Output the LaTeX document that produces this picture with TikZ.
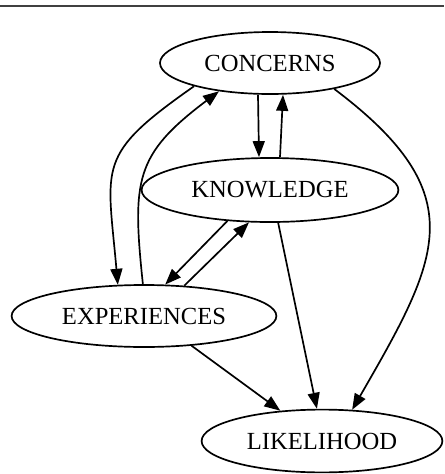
\documentclass[tikz,border=0pt]{standalone}
\usepackage{fontspec}
\setmainfont{Liberation Serif}
\usetikzlibrary{arrows.meta}
\usetikzlibrary{shapes.geometric}

\begin{document}
\begin{tikzpicture}[line width=1.2pt,
  >={Triangle[length=0.4cm,width=0.3cm]},
  factor/.style={ellipse,draw,inner sep=0pt,font=\fontsize{17.5}{20}\selectfont}]

\useasboundingbox (0,0) rectangle (11.1,-11.85);
% \draw[help lines] (0,0) grid (11,-12);

\draw[black!75] (0,-0.15) -- (11.1,-0.15);

\node[factor,minimum width=5.5cm,minimum height=1.55cm] (concerns) at (6.75,-1.575) {CONCERNS};
\node[factor,minimum width=6.42cm,minimum height=1.6cm] (knowledge) at (6.75,-4.75) {KNOWLEDGE};
\node[factor,minimum width=6.62cm,minimum height=1.55cm] (experiences) at (3.6,-7.9) {EXPERIENCES};
\node[factor,minimum width=6.02cm,minimum height=1.57cm] (likelihood) at (8.05,-11.025) {LIKELIHOOD};

% concerns <-> knowledge
\draw[->] ([xshift=-0.3cm]concerns.south) -- ([xshift=-0.275cm]knowledge.north);
\draw[->] ([xshift=0.25cm]knowledge.north) -- ([xshift=0.325cm]concerns.south);

% concerns <-> experiences
\draw[->] (concerns.197) to [out=215,in=95,looseness=1.45] (experiences.130);
\draw[->] (experiences.92) to [out=96,in=217,looseness=1.3] (concerns.209);

% knowledge <-> experiences
\path[->] (knowledge.216) edge (experiences.56);
\path[->] (experiences.37) edge (knowledge.237);

% into likelihood
\path[->] (experiences.328) edge (likelihood.144);
\path[->] (knowledge.284) edge (likelihood.99);
\draw[->] (concerns.338) to [out=-37,in=60,looseness=1.4] (likelihood.46);

\end{tikzpicture}
\end{document}
